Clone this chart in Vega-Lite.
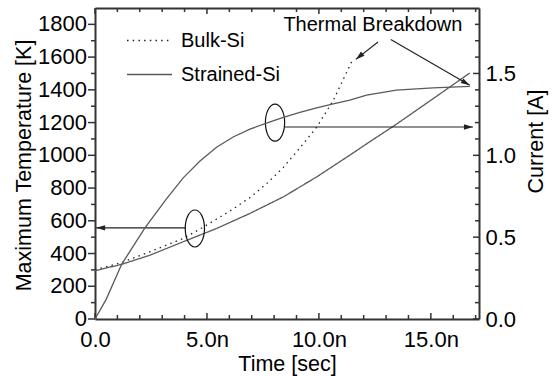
{
  "$schema": "https://vega.github.io/schema/vega-lite/v6.json",
  "width": 384,
  "height": 311,
  "autosize": "none",
  "padding": {"left": 95, "top": 8, "right": 75, "bottom": 57},
  "background": "white",
  "config": {
    "font": "Liberation Sans",
    "view": {"stroke": null},
    "axis": {
      "grid": false,
      "ticks": false,
      "domainColor": "#333",
      "domainWidth": 2,
      "labelFont": "Liberation Sans",
      "labelFontSize": 22,
      "labelColor": "black",
      "labelOverlap": false,
      "labelFlush": false,
      "titleFont": "Liberation Sans",
      "titleFontSize": 21.5,
      "titleFontWeight": "normal",
      "titleColor": "black"
    },
    "legend": {
      "labelFont": "Liberation Sans",
      "labelFontSize": 20,
      "labelColor": "black"
    }
  },
  "datasets": {
    "temp": [
      {"series": "Bulk-Si", "t": 0, "T": 300},
      {"series": "Bulk-Si", "t": 1.19, "T": 345},
      {"series": "Bulk-Si", "t": 2.46, "T": 411},
      {"series": "Bulk-Si", "t": 3.94, "T": 492},
      {"series": "Bulk-Si", "t": 4.69, "T": 550},
      {"series": "Bulk-Si", "t": 5.43, "T": 610},
      {"series": "Bulk-Si", "t": 6.17, "T": 672},
      {"series": "Bulk-Si", "t": 6.92, "T": 742},
      {"series": "Bulk-Si", "t": 7.66, "T": 826},
      {"series": "Bulk-Si", "t": 8.41, "T": 926},
      {"series": "Bulk-Si", "t": 9.15, "T": 1045},
      {"series": "Bulk-Si", "t": 9.9, "T": 1172},
      {"series": "Bulk-Si", "t": 10.64, "T": 1335},
      {"series": "Bulk-Si", "t": 11.49, "T": 1580},
      {"series": "Strained-Si", "t": 0, "T": 295},
      {"series": "Strained-Si", "t": 1.19, "T": 334},
      {"series": "Strained-Si", "t": 2.46, "T": 390},
      {"series": "Strained-Si", "t": 3.94, "T": 472},
      {"series": "Strained-Si", "t": 5.43, "T": 553},
      {"series": "Strained-Si", "t": 6.92, "T": 645},
      {"series": "Strained-Si", "t": 8.41, "T": 746},
      {"series": "Strained-Si", "t": 9.9, "T": 868},
      {"series": "Strained-Si", "t": 11.38, "T": 1001},
      {"series": "Strained-Si", "t": 12.13, "T": 1070},
      {"series": "Strained-Si", "t": 13.46, "T": 1190},
      {"series": "Strained-Si", "t": 15.09, "T": 1345},
      {"series": "Strained-Si", "t": 16.74, "T": 1503}
    ],
    "current": [
      {"t": 0, "I": 0},
      {"t": 0.5, "I": 0.12},
      {"t": 1.19, "I": 0.334},
      {"t": 2.23, "I": 0.557},
      {"t": 3.2, "I": 0.736},
      {"t": 3.94, "I": 0.862},
      {"t": 4.69, "I": 0.965},
      {"t": 5.43, "I": 1.049},
      {"t": 6.17, "I": 1.112},
      {"t": 6.92, "I": 1.16},
      {"t": 7.66, "I": 1.196},
      {"t": 8.41, "I": 1.232},
      {"t": 9.15, "I": 1.262},
      {"t": 9.9, "I": 1.29},
      {"t": 10.64, "I": 1.314},
      {"t": 11.38, "I": 1.337},
      {"t": 12.13, "I": 1.368},
      {"t": 13.46, "I": 1.398},
      {"t": 15.09, "I": 1.412},
      {"t": 16.74, "I": 1.421}
    ],
    "arrows": [
      {"id": "left", "t": 4.06, "T": 557, "t2": 0.05, "T2": 557},
      {"id": "right", "t": 8.48, "T": 1173, "t2": 16.88, "T2": 1173},
      {"id": "d1", "t": 12.64, "T": 1692, "t2": 11.65, "T2": 1586},
      {"id": "d2", "t": 13.21, "T": 1707, "t2": 16.74, "T2": 1428}
    ],
    "ellipses": [
      {"t": 8.04, "T": 1200},
      {"t": 4.46, "T": 553}
    ],
    "notes": [
      {"t": 12.41, "T": 1759, "label": "Thermal Breakdown"}
    ],
    "tMajor": [{"v": 0}, {"v": 5}, {"v": 10}, {"v": 15}],
    "tMinor": [{"v": 1}, {"v": 2}, {"v": 3}, {"v": 4}, {"v": 6}, {"v": 7}, {"v": 8}, {"v": 9}, {"v": 11}, {"v": 12}, {"v": 13}, {"v": 14}, {"v": 16}, {"v": 17}],
    "TMajor": [{"v": 0}, {"v": 200}, {"v": 400}, {"v": 600}, {"v": 800}, {"v": 1000}, {"v": 1200}, {"v": 1400}, {"v": 1600}, {"v": 1800}],
    "TMinor": [{"v": 100}, {"v": 300}, {"v": 500}, {"v": 700}, {"v": 900}, {"v": 1100}, {"v": 1300}, {"v": 1500}, {"v": 1700}],
    "IMajor": [{"v": 0}, {"v": 0.5}, {"v": 1.0}, {"v": 1.5}],
    "IMinor": [{"v": 0.1}, {"v": 0.2}, {"v": 0.3}, {"v": 0.4}, {"v": 0.6}, {"v": 0.7}, {"v": 0.8}, {"v": 0.9}, {"v": 1.1}, {"v": 1.2}, {"v": 1.3}, {"v": 1.4}, {"v": 1.6}, {"v": 1.7}, {"v": 1.8}]
  },
  "layer": [
    {
      "layer": [
        {
          "data": {"name": "temp"},
          "mark": {"type": "line", "strokeWidth": 1.3},
          "encoding": {
            "x": {
              "field": "t", "type": "quantitative",
              "scale": {"domain": [0, 17.15], "nice": false, "zero": false},
              "axis": {
                "orient": "bottom",
                "title": "Time [sec]",
                "values": [0, 5, 10, 15],
                "labelExpr": "datum.value === 0 ? '0.0' : format(datum.value, '.1f') + 'n'",
                "labelPadding": 10,
                "titlePadding": 3
              }
            },
            "y": {
              "field": "T", "type": "quantitative",
              "scale": {"domain": [0, 1900], "nice": false, "zero": false},
              "axis": {
                "orient": "left",
                "title": "Maximum Temperature [K]",
                "labels": false,
                "values": [0, 1800],
                "titleAngle": -90,
                "titleBaseline": "middle",
                "titleX": -71,
                "titleY": 157
              }
            },
            "strokeDash": {
              "field": "series", "type": "nominal",
              "scale": {"domain": ["Bulk-Si", "Strained-Si"], "range": [[1.5, 4.2], [1, 0]]},
              "legend": {
                "title": null,
                "orient": "none",
                "legendX": 31,
                "legendY": 9,
                "padding": 0,
                "symbolType": "stroke",
                "symbolSize": 2025,
                "symbolStrokeWidth": 1.3,
                "labelOffset": 8,
                "rowPadding": -23
              }
            },
            "color": {
              "field": "series", "type": "nominal",
              "scale": {"domain": ["Bulk-Si", "Strained-Si"], "range": ["#222222", "#5a5a5a"]},
              "legend": {
                "title": null,
                "orient": "none",
                "legendX": 31,
                "legendY": 9,
                "padding": 0,
                "symbolType": "stroke",
                "symbolSize": 2025,
                "symbolStrokeWidth": 1.3,
                "labelOffset": 8,
                "rowPadding": -23
              }
            }
          }
        },
        {
          "data": {"name": "TMajor"},
          "mark": {"type": "text", "align": "right", "baseline": "middle", "fontSize": 22, "font": "Liberation Sans", "color": "black", "xOffset": -8},
          "encoding": {
            "x": {"datum": 0, "type": "quantitative"},
            "y": {"field": "v", "type": "quantitative"},
            "text": {"field": "v", "format": "d"}
          }
        },
        {
          "data": {"name": "TMajor"},
          "mark": {"type": "rule", "color": "#333", "strokeWidth": 1.5},
          "encoding": {
            "x": {"datum": 0, "type": "quantitative"},
            "x2": {"datum": -0.3125},
            "y": {"field": "v", "type": "quantitative"}
          }
        },
        {
          "data": {"name": "TMinor"},
          "mark": {"type": "rule", "color": "#333", "strokeWidth": 1.5},
          "encoding": {
            "x": {"datum": 0, "type": "quantitative"},
            "x2": {"datum": -0.18},
            "y": {"field": "v", "type": "quantitative"}
          }
        },
        {
          "data": {"name": "tMajor"},
          "mark": {"type": "rule", "color": "#333", "strokeWidth": 1.5},
          "encoding": {
            "x": {"field": "v", "type": "quantitative"},
            "y": {"datum": 0, "type": "quantitative"},
            "y2": {"datum": 36.6}
          }
        },
        {
          "data": {"name": "tMinor"},
          "mark": {"type": "rule", "color": "#333", "strokeWidth": 1.5},
          "encoding": {
            "x": {"field": "v", "type": "quantitative"},
            "y": {"datum": 0, "type": "quantitative"},
            "y2": {"datum": 24.4}
          }
        },
        {
          "data": {"name": "tMajor"},
          "mark": {"type": "rule", "color": "#333", "strokeWidth": 1.5},
          "encoding": {
            "x": {"field": "v", "type": "quantitative"},
            "y": {"datum": 1900, "type": "quantitative"},
            "y2": {"datum": 1863.4}
          }
        },
        {
          "data": {"name": "tMinor"},
          "mark": {"type": "rule", "color": "#333", "strokeWidth": 1.5},
          "encoding": {
            "x": {"field": "v", "type": "quantitative"},
            "y": {"datum": 1900, "type": "quantitative"},
            "y2": {"datum": 1875.6}
          }
        },
        {
          "data": {"name": "arrows"},
          "mark": {"type": "rule", "color": "#222", "strokeWidth": 1.2},
          "encoding": {
            "x": {"field": "t", "type": "quantitative"},
            "y": {"field": "T", "type": "quantitative"},
            "x2": {"field": "t2"},
            "y2": {"field": "T2"}
          }
        },
        {
          "data": {"name": "arrows"},
          "transform": [{"filter": "datum.id === 'left'"}],
          "mark": {"type": "point", "shape": "M 0 0 L -1 -0.3 L -1 0.3 Z", "filled": true, "color": "#222", "size": 324, "opacity": 1, "angle": 180},
          "encoding": {
            "x": {"field": "t2", "type": "quantitative"},
            "y": {"field": "T2", "type": "quantitative"}
          }
        },
        {
          "data": {"name": "arrows"},
          "transform": [{"filter": "datum.id === 'right'"}],
          "mark": {"type": "point", "shape": "M 0 0 L -1 -0.3 L -1 0.3 Z", "filled": true, "color": "#222", "size": 324, "opacity": 1, "angle": 0},
          "encoding": {
            "x": {"field": "t2", "type": "quantitative"},
            "y": {"field": "T2", "type": "quantitative"}
          }
        },
        {
          "data": {"name": "arrows"},
          "transform": [{"filter": "datum.id === 'd1'"}],
          "mark": {"type": "point", "shape": "M 0 0 L -1 -0.3 L -1 0.3 Z", "filled": true, "color": "#222", "size": 324, "opacity": 1, "angle": 140},
          "encoding": {
            "x": {"field": "t2", "type": "quantitative"},
            "y": {"field": "T2", "type": "quantitative"}
          }
        },
        {
          "data": {"name": "arrows"},
          "transform": [{"filter": "datum.id === 'd2'"}],
          "mark": {"type": "point", "shape": "M 0 0 L -1 -0.3 L -1 0.3 Z", "filled": true, "color": "#222", "size": 324, "opacity": 1, "angle": 30},
          "encoding": {
            "x": {"field": "t2", "type": "quantitative"},
            "y": {"field": "T2", "type": "quantitative"}
          }
        },
        {
          "data": {"name": "ellipses"},
          "mark": {"type": "point", "shape": "M -0.52 0 A 0.52 1 0 1 0 0.52 0 A 0.52 1 0 1 0 -0.52 0 Z", "filled": false, "stroke": "#111", "strokeWidth": 1.2, "size": 1369, "opacity": 1},
          "encoding": {
            "x": {"field": "t", "type": "quantitative"},
            "y": {"field": "T", "type": "quantitative"}
          }
        },
        {
          "data": {"name": "notes"},
          "mark": {"type": "text", "fontSize": 20, "font": "Liberation Sans", "align": "center", "baseline": "alphabetic", "color": "black"},
          "encoding": {
            "x": {"field": "t", "type": "quantitative"},
            "y": {"field": "T", "type": "quantitative"},
            "text": {"field": "label"}
          }
        }
      ]
    },
    {
      "layer": [
        {
          "data": {"name": "current"},
          "mark": {"type": "line", "color": "#5a5a5a", "strokeWidth": 1.3},
          "encoding": {
            "x": {
              "field": "t", "type": "quantitative",
              "scale": {"domain": [0, 17.15], "nice": false, "zero": false},
              "axis": {
                "orient": "top",
                "title": null,
                "values": [0, 5, 10, 15],
                "labels": false
              }
            },
            "y": {
              "field": "I", "type": "quantitative",
              "scale": {"domain": [0, 1.9], "nice": false, "zero": false},
              "axis": {
                "orient": "right",
                "title": "Current [A]",
                "titleAngle": -90,
                "titleBaseline": "middle",
                "titleX": 57,
                "titleY": 133,
                "values": [0, 0.5, 1.0, 1.5],
                "format": ".1f",
                "labelPadding": 6
              }
            }
          }
        },
        {
          "data": {"name": "IMajor"},
          "mark": {"type": "rule", "color": "#333", "strokeWidth": 1.5},
          "encoding": {
            "x": {"datum": 17.15, "type": "quantitative"},
            "x2": {"datum": 16.882},
            "y": {"field": "v", "type": "quantitative"}
          }
        },
        {
          "data": {"name": "IMinor"},
          "mark": {"type": "rule", "color": "#333", "strokeWidth": 1.5},
          "encoding": {
            "x": {"datum": 17.15, "type": "quantitative"},
            "x2": {"datum": 16.971},
            "y": {"field": "v", "type": "quantitative"}
          }
        }
      ]
    }
  ],
  "resolve": {"scale": {"x": "independent", "y": "independent"}}
}
